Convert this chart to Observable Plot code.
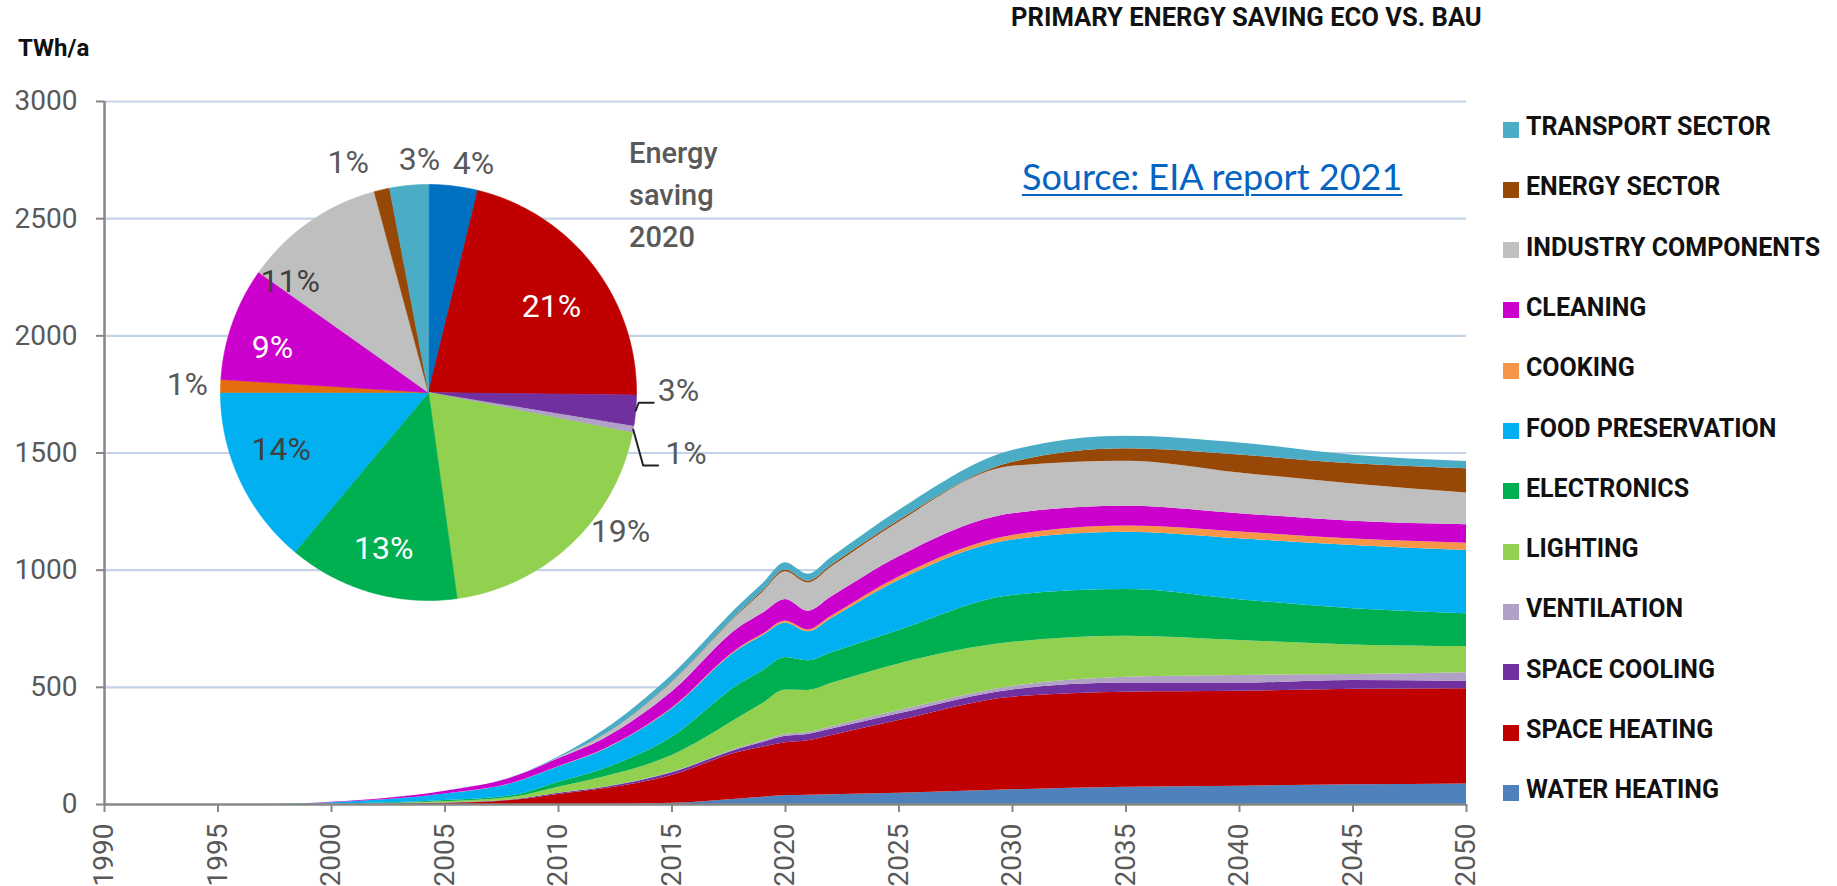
<!DOCTYPE html>
<html>
<head>
<meta charset="utf-8">
<script src="https://cdn.jsdelivr.net/npm/d3@7"></script>
<script src="https://cdn.jsdelivr.net/npm/@observablehq/plot@0.6"></script>
<style>
  html, body { margin: 0; padding: 0; background: #fff; overflow: hidden; }
  #root { position: relative; width: 1837px; height: 886px; font-family: Roboto, sans-serif; }
  .abs { position: absolute; white-space: nowrap; }
  #title { left: 1011px; top: 4px; font-size: 25.6px; line-height: 26px; font-weight: 700; color: #111; }
  #unit { left: 18px; top: 36px; font-size: 24px; line-height: 24px; font-weight: 700; color: #111; }
  #source { left: 1022px; top: 157px; font-family: Lato, sans-serif; font-size: 36px; line-height: 38px; color: #0563C1; text-decoration: underline; text-decoration-thickness: 2px; text-underline-offset: 4px; }
  #pietitle { left: 629px; top: 132px; font-size: 29px; line-height: 42px; font-weight: 500; color: #595959; white-space: normal; width: 120px; }
  .legrow { position: absolute; left: 1503px; height: 30px; display: flex; align-items: center; }
  .legsw { width: 16px; height: 16px; margin-top: 5px; margin-right: 7px; }
  .legtx { font-size: 25px; font-weight: 700; color: #111; line-height: 30px; }
  #pie { position: absolute; left: 108px; top: 72px; }
  #chart { position: absolute; left: 0; top: 0; }
</style>
</head>
<body>
<div id="root"></div>
<script>
// ---------- DATA ----------
const years = [1990, 1997, 2000, 2005, 2008, 2010, 2012, 2015, 2018, 2019, 2020, 2021, 2022, 2025, 2030, 2035, 2040, 2045, 2050];

// stacking order: bottom -> top (also clockwise order of the pie from 12 o'clock)
const categories = ["WATER HEATING", "SPACE HEATING", "SPACE COOLING", "VENTILATION", "LIGHTING",
  "ELECTRONICS", "FOOD PRESERVATION", "COOKING", "CLEANING", "INDUSTRY COMPONENTS", "ENERGY SECTOR", "TRANSPORT SECTOR"];
const areaColors = ["#4F81BD", "#C00000", "#7030A0", "#B2A1C7", "#92D050",
  "#00B050", "#00B0F0", "#F79646", "#CC00CC", "#BFBFBF", "#974706", "#4BACC6"];

// TWh/a per year (values of each series)
const waterHeating     = [0, 0, 0, 0, 0, 0, 1, 5, 24, 31, 38, 40, 42, 48, 63, 74, 78, 84, 88];
const spaceHeating     = [0, 0, 0, 5, 18, 43, 66, 119, 200, 213, 225, 232, 251, 310, 395, 405, 405, 408, 406];
const spaceCooling     = [0, 0, 0, 1, 2, 5, 6, 12, 14, 21, 28, 27, 28, 29, 31, 39, 35, 37, 31];
const ventilation      = [0, 0, 0, 0, 0, 0, 1, 2, 4, 6, 8, 8, 10, 14, 15, 25, 33, 26, 37];
const lighting         = [0, 0, 1, 6, 11, 26, 43, 71, 131, 160, 190, 180, 185, 199, 188, 175, 149, 126, 112];
const electronics      = [0, 0, 1, 5, 7, 21, 35, 78, 142, 140, 138, 126, 130, 143, 200, 199, 174, 154, 140];
const foodPreservation = [0, 0, 6, 28, 53, 65, 81, 121, 150, 149, 148, 124, 146, 213, 237, 245, 260, 270, 270];
const cooking          = [0, 0, 0, 0, 1, 1, 2, 3, 5, 6, 8, 8, 10, 15, 19, 26, 29, 28, 31];
const cleaning         = [0, 0, 2, 12, 24, 34, 45, 69, 87, 90, 92, 80, 82, 86, 93, 85, 78, 76, 79];
const industryComp     = [0, 0, 0, 0, 0, 3, 14, 40, 60, 89, 118, 120, 127, 148, 202, 192, 174, 159, 135];
const energySector     = [0, 0, 0, 0, 0, 0, 1, 2, 4, 6, 8, 8, 8, 7, 17, 53, 76, 86, 104];
const transportSector  = [0, 0, 0, 0, 1, 5, 22, 30, 31, 31, 31, 30, 33, 43, 51, 54, 52, 36, 31];

const seriesValues = [waterHeating, spaceHeating, spaceCooling, ventilation, lighting, electronics,
  foodPreservation, cooking, cleaning, industryComp, energySector, transportSector];

const yTicks = [0, 500, 1000, 1500, 2000, 2500, 3000];
const xTicks = [1990, 1995, 2000, 2005, 2010, 2015, 2020, 2025, 2030, 2035, 2040, 2045, 2050];

// Pie: energy saving 2020, shares in %, same order as categories (clockwise from top)
const pieShares = [3.8, 21.4, 2.4, 0.5, 19.7, 13.3, 13.9, 1.0, 8.8, 11.0, 1.2, 3.0];
const pieLabelText = ["4%", "21%", "3%", "1%", "19%", "13%", "14%", "1%", "9%", "11%", "1%", "3%"];
const pieColors = ["#0070C0", "#C00000", "#7030A0", "#B2A1C7", "#92D050",
  "#00B050", "#00B0F0", "#E46C0A", "#CC00CC", "#BFBFBF", "#974706", "#4BACC6"];

// label styling per slice: radius factor, angle shift (deg), colour; null = leader-line label
const pieLabelStyle = [
  {r: 1.12, shift: 4.3, fill: "#595959"},
  {r: 0.72, shift: 3, fill: "#ffffff"},
  null,
  null,
  {r: 1.14, shift: -10.7, fill: "#595959"},
  {r: 0.78, shift: 0, fill: "#ffffff"},
  {r: 0.76, shift: 3.8, fill: "#404040"},
  {r: 1.16, shift: 0, fill: "#595959"},
  {r: 0.78, shift: -3.4, fill: "#ffffff"},
  {r: 0.85, shift: -16.5, fill: "#404040"},
  {r: 1.17, shift: -6.3, fill: "#595959"},
  {r: 1.12, shift: 3.2, fill: "#595959"}
];
// leader lines (screen px offsets): elbow offset, tail length, label gap and raise
const pieLeaders = [
  {i: 2, dx1: 3, dy1: -8, dx2: 15, gap: 4, dy: -12},
  {i: 3, dx1: 10, dy1: 36, dx2: 15, gap: 7, dy: -12}
];

// ---------- BUILD ----------
const root = document.getElementById("root");

const stackData = [];
years.forEach((yr, j) => {
  categories.forEach((c, i) => stackData.push({year: yr, category: c, value: seriesValues[i][j]}));
});

const chart = Plot.plot({
  width: 1837,
  height: 886,
  marginLeft: 104,
  marginRight: 371,
  marginTop: 101,
  marginBottom: 82,
  style: {fontFamily: "Roboto, sans-serif", fontSize: "28px", background: "transparent", overflow: "visible"},
  x: {domain: [1990, 2050]},
  y: {domain: [0, 3000]},
  color: {domain: categories, range: areaColors},
  marks: [
    Plot.ruleY(yTicks.filter(d => d > 0), {stroke: "#C3D3E8", strokeWidth: 2.2}),
    Plot.areaY(stackData, {x: "year", y: "value", z: "category", fill: "category", curve: "monotone-x"}),
    Plot.axisY({ticks: yTicks, tickSize: 8, tickPadding: 19, tickFormat: d => String(d), stroke: "#878787", strokeWidth: 2, fill: "#595959", label: null}),
    Plot.axisX({ticks: xTicks, tickSize: 8, tickPadding: 11, tickRotate: -90, tickFormat: d => String(d), stroke: "#878787", strokeWidth: 2, fill: "#595959", label: null}),
    Plot.ruleX([1990], {stroke: "#878787", strokeWidth: 2.5}),
    Plot.ruleY([0], {stroke: "#878787", strokeWidth: 2.5})
  ]
});
chart.id = "chart";
root.appendChild(chart);

// ---- pie ----
const PIE_SIZE = 640, R_PX = 208;
const U = (PIE_SIZE / 2) / R_PX; // domain half-extent in radius units
const total = d3.sum(pieShares);
let acc = 0;
const slices = pieShares.map((v, i) => {
  const a0 = acc / total * 2 * Math.PI; acc += v;
  const a1 = acc / total * 2 * Math.PI;
  return {i, a0, a1, mid: (a0 + a1) / 2};
});
const piePts = [];
for (const s of slices) {
  piePts.push({k: s.i, x: 0, y: 0, c: pieColors[s.i]});
  const n = Math.max(2, Math.ceil((s.a1 - s.a0) / (Math.PI / 180)));
  for (let j = 0; j <= n; j++) {
    const a = s.a0 + (s.a1 - s.a0) * j / n;
    piePts.push({k: s.i, x: Math.sin(a), y: Math.cos(a), c: pieColors[s.i]});
  }
}
const pieLabels = [];
slices.forEach(s => {
  const st = pieLabelStyle[s.i];
  if (!st) return;
  const a = s.mid + st.shift * Math.PI / 180;
  pieLabels.push({x: st.r * Math.sin(a), y: st.r * Math.cos(a), text: pieLabelText[s.i], fill: st.fill});
});
const leaderPts = [], leaderLabels = [];
pieLeaders.forEach(L => {
  const s = slices[L.i];
  const x0 = Math.sin(s.mid), y0 = Math.cos(s.mid);
  const x1 = x0 + L.dx1 / R_PX, y1 = y0 - L.dy1 / R_PX;
  const x2 = x1 + L.dx2 / R_PX;
  leaderPts.push({k: L.i, x: x0, y: y0}, {k: L.i, x: x1, y: y1}, {k: L.i, x: x2, y: y1});
  leaderLabels.push({x: x2 + L.gap / R_PX, y: y1 - L.dy / R_PX, text: pieLabelText[L.i]});
});

const pie = Plot.plot({
  width: PIE_SIZE, height: PIE_SIZE,
  margin: 0,
  style: {fontFamily: "Roboto, sans-serif", background: "transparent", overflow: "visible"},
  x: {domain: [-U, U], axis: null},
  y: {domain: [-U, U], axis: null},
  color: {type: "identity"},
  marks: [
    Plot.line(piePts, {x: "x", y: "y", z: "k", fill: "c", stroke: "c", strokeWidth: 0.6, curve: "linear-closed"}),
    Plot.line(leaderPts, {x: "x", y: "y", z: "k", stroke: "#222", strokeWidth: 2}),
    Plot.text(pieLabels, {x: "x", y: "y", text: "text", fill: "fill", fontSize: 32}),
    Plot.text(leaderLabels, {x: "x", y: "y", text: "text", fill: "#595959", fontSize: 32, textAnchor: "start"})
  ]
});
pie.id = "pie";
root.appendChild(pie);

// ---- texts ----
function addText(id, html) {
  const d = document.createElement("div");
  d.id = id; d.className = "abs"; d.innerHTML = html;
  root.appendChild(d);
  return d;
}
addText("title", "PRIMARY ENERGY SAVING ECO VS. BAU");
addText("unit", "TWh/a");
addText("source", "Source: EIA report 2021");
addText("pietitle", "Energy saving 2020");

// ---- legend (top = last category) ----
const legendOrder = categories.map((c, i) => i).reverse();
legendOrder.forEach((i, row) => {
  const r = document.createElement("div");
  r.className = "legrow";
  r.style.top = (127 + row * 60.3 - 15) + "px";
  const sw = document.createElement("div");
  sw.className = "legsw";
  sw.style.background = areaColors[i];
  const tx = document.createElement("div");
  tx.className = "legtx";
  tx.textContent = categories[i];
  r.appendChild(sw); r.appendChild(tx);
  root.appendChild(r);
});
</script>
</body>
</html>
